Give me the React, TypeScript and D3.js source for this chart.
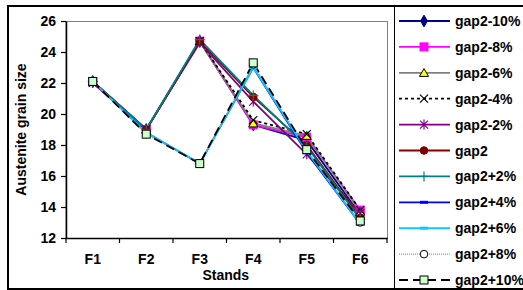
import React, { useEffect, useRef } from 'react';
import * as d3 from 'd3';

const stands = ['F1', 'F2', 'F3', 'F4', 'F5', 'F6'];
const yTicks = [12, 14, 16, 18, 20, 22, 24, 26];

const gap2m10 = [22.1, 19.0, 24.7, 19.3, 18.3, 13.5];
const gap2m8 = [22.1, 19.0, 24.7, 19.3, 18.5, 13.8];
const gap2m6 = [22.1, 19.0, 24.7, 19.4, 18.6, 13.7];
const gap2m4 = [22.1, 19.0, 24.7, 19.6, 18.7, 13.8];
const gap2m2 = [22.0, 19.0, 24.6, 20.8, 17.4, 13.6];
const gap2 = [22.1, 19.0, 24.7, 21.1, 18.0, 13.3];
const gap2p2 = [22.1, 19.0, 24.8, 21.2, 17.9, 13.2];
const gap2p4 = [22.1, 18.8, 16.8, 23.0, 17.5, 12.9];
const gap2p6 = [22.1, 18.8, 16.8, 23.0, 17.6, 12.9];
const gap2p8 = [22.1, 18.7, 16.8, 23.2, 17.7, 13.0];
const gap2p10 = [22.1, 18.7, 16.8, 23.3, 17.7, 13.1];

const series = [
  { name: 'gap2-10%', values: gap2m10, color: '#000080', dash: null, marker: 'diamond', fill: '#000080' },
  { name: 'gap2-8%', values: gap2m8, color: '#ff00ff', dash: null, marker: 'square', fill: '#ff00ff' },
  { name: 'gap2-6%', values: gap2m6, color: '#808080', dash: null, marker: 'triangle', fill: '#ffff00' },
  { name: 'gap2-4%', values: gap2m4, color: '#000000', dash: '3,3', marker: 'x', fill: 'none' },
  { name: 'gap2-2%', values: gap2m2, color: '#800080', dash: null, marker: 'star', fill: 'none' },
  { name: 'gap2', values: gap2, color: '#800000', dash: null, marker: 'circle', fill: '#800000' },
  { name: 'gap2+2%', values: gap2p2, color: '#008080', dash: null, marker: 'plus', fill: 'none' },
  { name: 'gap2+4%', values: gap2p4, color: '#0000ff', dash: null, marker: 'bar', fill: '#0000ff' },
  { name: 'gap2+6%', values: gap2p6, color: '#00ccff', dash: null, marker: 'bar', fill: '#00ccff' },
  { name: 'gap2+8%', values: gap2p8, color: '#999999', dash: '1,1', marker: 'circle', fill: '#ffffff' },
  { name: 'gap2+10%', values: gap2p10, color: '#000000', dash: '9,5', marker: 'square', fill: '#ccffcc' },
];

const font = 'Liberation Sans, Arial, sans-serif';

function drawMarker(g, s, cx, cy) {
  const m = s.marker;
  if (m === 'diamond') {
    g.append('path').attr('d', d3.symbol(d3.symbolDiamond, 40)()).attr('transform', `translate(${cx},${cy})`)
      .attr('fill', s.fill).attr('stroke', s.color).attr('stroke-width', 1);
  } else if (m === 'square') {
    const stroke = s.fill === '#ccffcc' ? '#000' : s.color;
    g.append('rect').attr('x', cx - 4).attr('y', cy - 4).attr('width', 8).attr('height', 8)
      .attr('fill', s.fill).attr('stroke', stroke).attr('stroke-width', 1);
  } else if (m === 'triangle') {
    g.append('path').attr('d', d3.symbol(d3.symbolTriangle, 36)()).attr('transform', `translate(${cx},${cy + 1})`)
      .attr('fill', s.fill).attr('stroke', '#000').attr('stroke-width', 1);
  } else if (m === 'circle') {
    const stroke = s.fill === '#ffffff' ? '#000' : s.color;
    g.append('circle').attr('cx', cx).attr('cy', cy).attr('r', 3.8)
      .attr('fill', s.fill).attr('stroke', stroke).attr('stroke-width', 1);
  } else if (m === 'x') {
    g.append('path').attr('d', `M${cx - 4},${cy - 4}L${cx + 4},${cy + 4}M${cx - 4},${cy + 4}L${cx + 4},${cy - 4}`)
      .attr('stroke', s.color).attr('stroke-width', 1.2).attr('fill', 'none');
  } else if (m === 'star') {
    g.append('path').attr('d', `M${cx - 4},${cy - 4}L${cx + 4},${cy + 4}M${cx - 4},${cy + 4}L${cx + 4},${cy - 4}M${cx},${cy - 5}L${cx},${cy + 5}`)
      .attr('stroke', s.color).attr('stroke-width', 1.2).attr('fill', 'none');
  } else if (m === 'plus') {
    g.append('path').attr('d', `M${cx - 5},${cy}L${cx + 5},${cy}M${cx},${cy - 5}L${cx},${cy + 5}`)
      .attr('stroke', s.color).attr('stroke-width', 1.2).attr('fill', 'none');
  } else if (m === 'bar') {
    g.append('rect').attr('x', cx - 4).attr('y', cy - 1.5).attr('width', 8).attr('height', 3)
      .attr('fill', s.fill);
  }
}

const App = () => {
  const svgRef = useRef();

  useEffect(() => {
    const svg = d3.select(svgRef.current);
    svg.selectAll('*').remove();

    const width = 523;
    const height = 290;
    const plot = { left: 66, right: 387, top: 21, bottom: 238 };

    const x = d3.scaleBand().domain(stands).range([plot.left, plot.right]).padding(0);
    const y = d3.scaleLinear().domain([12, 26]).range([plot.bottom, plot.top]);
    const cx = (c) => x(c) + x.bandwidth() / 2;

    svg.attr('width', width).attr('height', height);

    // outer frame and legend box
    svg.append('rect').attr('x', 0).attr('y', 0).attr('width', width).attr('height', height).attr('fill', '#fff');
    svg.append('rect').attr('x', 8).attr('y', 6).attr('width', 540).attr('height', 283)
      .attr('fill', 'none').attr('stroke', '#000').attr('stroke-width', 2);
    svg.append('line').attr('x1', 394.5).attr('x2', 394.5).attr('y1', 6).attr('y2', 289)
      .attr('stroke', '#000').attr('stroke-width', 1);

    // plot area border (gray)
    svg.append('rect').attr('x', plot.left).attr('y', plot.top + 0.5)
      .attr('width', plot.right - plot.left + 0.5).attr('height', plot.bottom - plot.top)
      .attr('fill', 'none').attr('stroke', '#808080').attr('stroke-width', 1);

    // axes
    const yAxis = svg.append('g').attr('transform', `translate(${plot.left},0)`)
      .call(d3.axisLeft(y).tickValues(yTicks).tickSize(5).tickSizeOuter(0).tickPadding(5));
    const xAxis = svg.append('g').attr('transform', `translate(0,${plot.bottom})`)
      .call(d3.axisBottom(x).tickSize(0).tickPadding(16));

    [yAxis, xAxis].forEach((a) => {
      a.select('.domain').attr('stroke', '#000').attr('stroke-width', 1.5);
      a.selectAll('line').attr('stroke', '#000').attr('stroke-width', 1.2);
      a.selectAll('text').attr('font-family', font).attr('font-size', 14).attr('font-weight', 'bold').attr('fill', '#000');
    });

    // x ticks at category boundaries
    const bounds = stands.map((c) => x(c)).concat([plot.right]);
    svg.append('g').selectAll('line').data(bounds).enter().append('line')
      .attr('x1', (d) => d).attr('x2', (d) => d)
      .attr('y1', plot.bottom).attr('y2', plot.bottom + 5)
      .attr('stroke', '#000').attr('stroke-width', 1.2);

    // axis titles
    svg.append('text').attr('x', cx('F3') + 26).attr('y', 280).attr('text-anchor', 'middle')
      .attr('font-family', font).attr('font-size', 14).attr('font-weight', 'bold').text('Stands');
    svg.append('text').attr('transform', `translate(26,${(plot.top + plot.bottom) / 2}) rotate(-90)`)
      .attr('text-anchor', 'middle')
      .attr('font-family', font).attr('font-size', 14).attr('font-weight', 'bold').text('Austenite grain size');

    const line = d3.line().x((d, i) => cx(stands[i])).y((d) => y(d));

    const lines = svg.append('g');
    series.forEach((s) => {
      lines.append('path').datum(s.values).attr('d', line)
        .attr('fill', 'none').attr('stroke', s.color)
        .attr('stroke-width', s.dash === '1,1' ? 1.2 : 1.8)
        .attr('stroke-dasharray', s.dash);
    });

    const marks = svg.append('g');
    series.forEach((s) => {
      s.values.forEach((v, i) => drawMarker(marks, s, cx(stands[i]), y(v)));
    });

    // legend
    const legend = svg.append('g');
    series.forEach((s, i) => {
      const ly = 21 + i * 25.9;
      legend.append('line').attr('x1', 399).attr('x2', 450).attr('y1', ly).attr('y2', ly)
        .attr('stroke', s.color).attr('stroke-width', s.dash === '1,1' ? 1.2 : 1.8)
        .attr('stroke-dasharray', s.dash);
      drawMarker(legend, s, 424, ly);
      legend.append('text').attr('x', 455).attr('y', ly + 5)
        .attr('font-family', font).attr('font-size', 14).attr('font-weight', 'bold').text(s.name);
    });
  }, []);

  return <svg ref={svgRef} style={{ position: 'absolute', left: 0, top: 0 }}></svg>;
};

export default App;
